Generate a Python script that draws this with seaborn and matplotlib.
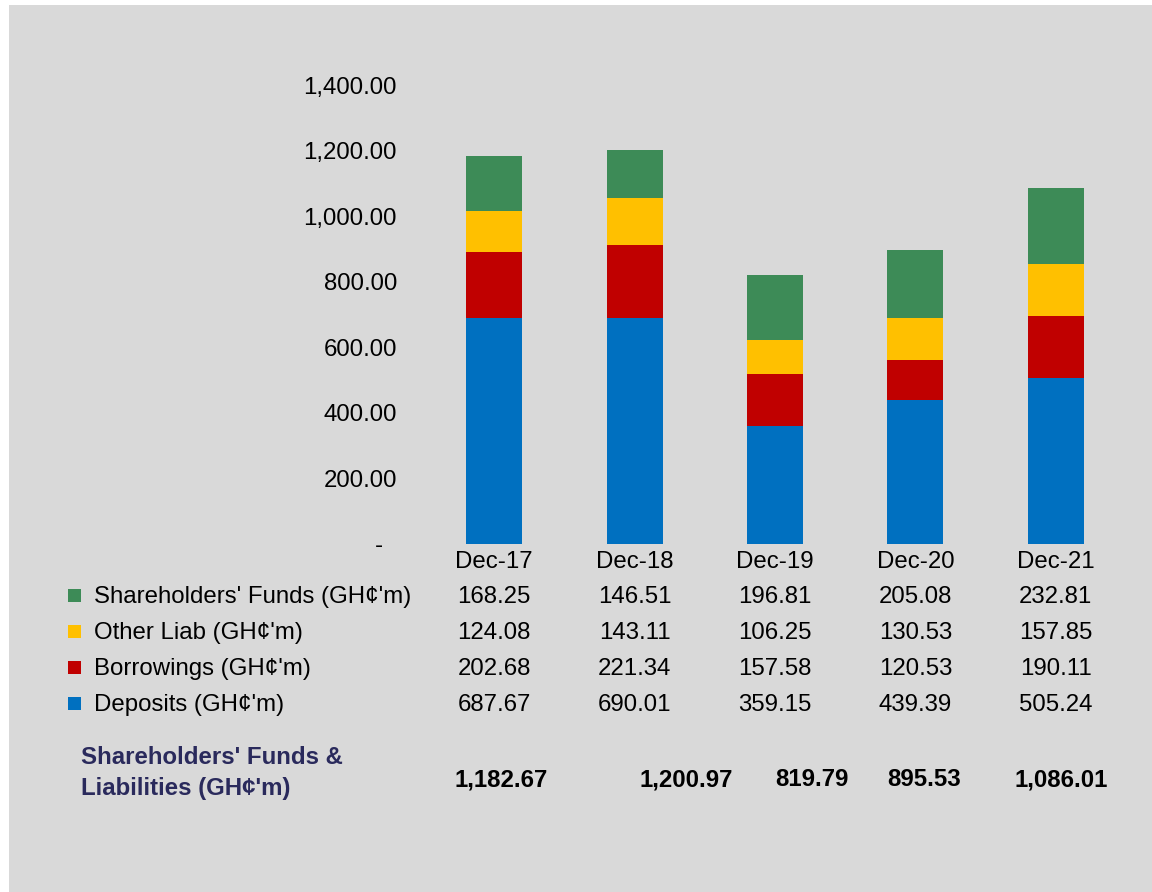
import matplotlib
matplotlib.use("Agg")
import matplotlib.pyplot as plt
import matplotlib.transforms as mtransforms
from matplotlib.patches import Rectangle
from matplotlib.ticker import FuncFormatter
import pandas as pd
import seaborn as sns

# data
periods = ["Dec-17", "Dec-18", "Dec-19", "Dec-20", "Dec-21"]
deposits = [687.67, 690.01, 359.15, 439.39, 505.24]
borrowings = [202.68, 221.34, 157.58, 120.53, 190.11]
other_liab = [124.08, 143.11, 106.25, 130.53, 157.85]
shareholders = [168.25, 146.51, 196.81, 205.08, 232.81]
totals = [1182.67, 1200.97, 819.79, 895.53, 1086.01]

series_names = [
    "Shareholders' Funds (GH¢'m)",
    "Other Liab (GH¢'m)",
    "Borrowings (GH¢'m)",
    "Deposits (GH¢'m)",
]
series_values = [shareholders, other_liab, borrowings, deposits]
colors = ["#3D8B57", "#FFC000", "#C00000", "#0070C0"]
total_label = "Shareholders' Funds &\nLiabilities (GH¢'m)"

BG = "#D9D9D9"
NAVY = "#2A2A5C"
FS = 17.3

sns.set_theme(style="white")
plt.rcParams["font.family"] = ["Liberation Sans", "DejaVu Sans"]

fig = plt.figure(figsize=(11.52, 8.92), dpi=100)
fig.patch.set_facecolor("white")
# grey panel, white strip at the left and top
fig.patches.append(Rectangle((9 / 1152, 0), 1, (892 - 5) / 892,
                             transform=fig.transFigure, facecolor=BG,
                             edgecolor="none", zorder=-10))

ax = fig.add_axes([424 / 1152, (892 - 543.7) / 892, 702 / 1152, 458.6 / 892])
ax.set_facecolor("none")

# stacked via cumulative totals, drawn from the top layer down
df = pd.DataFrame({"period": periods,
                   "Deposits": deposits,
                   "Borrowings": borrowings,
                   "Other": other_liab,
                   "Shareholders": shareholders})
df["c_dep"] = df["Deposits"]
df["c_bor"] = df["c_dep"] + df["Borrowings"]
df["c_oth"] = df["c_bor"] + df["Other"]
df["c_sh"] = df["c_oth"] + df["Shareholders"]

for col, c in zip(["c_sh", "c_oth", "c_bor", "c_dep"], colors):
    sns.barplot(data=df, x="period", y=col, color=c, width=0.4,
                saturation=1, ax=ax, linewidth=0, errorbar=None)

ax.set_xlim(-0.5, 4.5)
ax.set_ylim(0, 1400)
ax.set_yticks([0, 200, 400, 600, 800, 1000, 1200, 1400])
ax.yaxis.set_major_formatter(FuncFormatter(lambda v, p: "-" if v == 0 else f"{v:,.2f}"))
ax.tick_params(axis="y", length=0, pad=19.5, labelsize=FS, labelcolor="black")
ax.tick_params(axis="x", length=0, pad=5, labelsize=FS, labelcolor="black")
ax.set_xlabel("")
ax.set_ylabel("")
for s in ax.spines.values():
    s.set_visible(False)

# zero label sits a bit further left
zero_lab = ax.get_yticklabels()[0]
zero_lab.set_transform(zero_lab.get_transform() +
                       mtransforms.ScaledTranslation(-14 / 100, 0, fig.dpi_scale_trans))

# data table under the chart
row_y = [597, 633, 669, 705]
xdata_fig = mtransforms.blended_transform_factory(ax.transData, fig.transFigure)
for name, vals, c, yp in zip(series_names, series_values, colors, row_y):
    yf = (892 - yp) / 892
    fig.patches.append(Rectangle((68 / 1152, (892 - yp - 5) / 892), 13 / 1152, 13 / 892,
                                 transform=fig.transFigure, facecolor=c,
                                 edgecolor="none"))
    fig.text(94 / 1152, yf, name, fontsize=FS, color="black", ha="left", va="center")
    for i, v in enumerate(vals):
        ax.text(i, yf, f"{v:.2f}", transform=xdata_fig, fontsize=FS,
                color="black", ha="center", va="center")

fig.text(81 / 1152, (892 - 773) / 892, total_label, fontsize=FS, color=NAVY,
         fontweight="bold", ha="left", va="center", linespacing=1.4)
total_shift = [0.05, 0.37, 0.26, 0.06, 0.04]
for i, (v, dx) in enumerate(zip(totals, total_shift)):
    ax.text(i + dx, (892 - 786) / 892, f"{v:,.2f}", transform=xdata_fig,
            fontsize=FS, color="black", fontweight="bold", ha="center", va="baseline")

fig.savefig("out.png", dpi=100, facecolor=fig.get_facecolor())
